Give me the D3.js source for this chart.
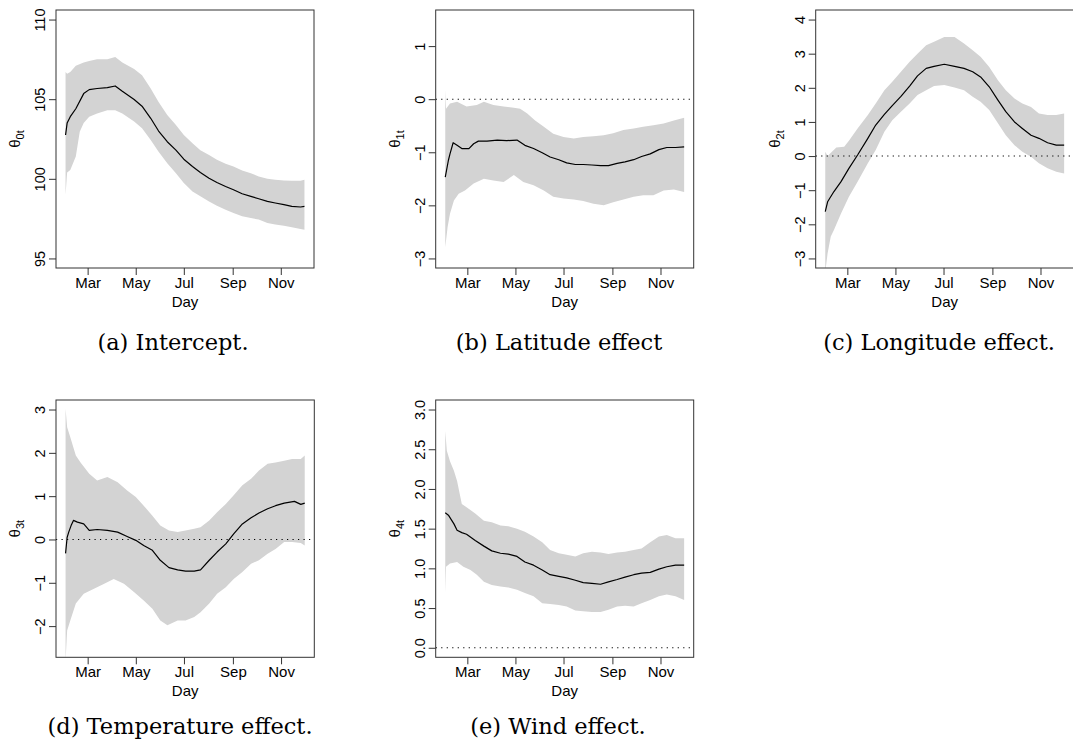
<!DOCTYPE html>
<html>
<head>
<meta charset="utf-8">
<script src="https://cdn.jsdelivr.net/npm/d3@7"></script>
<style>
  html, body { margin: 0; padding: 0; background: #fff; }
  svg { display: block; }
</style>
</head>
<body>
<svg id="chart" width="1073" height="749"></svg>
<script>
// ---------- shared axis data ----------
const monthLabels = ["Mar", "May", "Jul", "Sep", "Nov"];
const monthDays = [28, 89, 150, 212, 273];   // days after 1 Feb
const dayExtent = [0, 303];                   // 1 Feb .. 1 Dec

// ---------- (a) Intercept ----------
const aTicks = [95, 100, 105, 110];
const aEstDays = [0,2,6,13,23,30,40,53,63,72,87,97,108,118,129,140,150,161,171,182,192,203,213,224,235,245,256,266,277,287,298,303];
const aEst = [102.75,103.5,103.9,104.4,105.35,105.6,105.67,105.73,105.83,105.5,104.98,104.56,103.8,103.0,102.33,101.8,101.23,100.77,100.4,100.04,99.77,99.52,99.31,99.06,98.9,98.75,98.58,98.48,98.38,98.27,98.23,98.27];
const aUpDays = [0,2,6,13,23,30,40,53,63,72,87,97,108,118,129,140,150,161,171,182,192,203,213,224,235,245,256,266,277,287,298,303];
const aUpper = [106.7,106.6,106.7,107.1,107.3,107.4,107.5,107.5,107.65,107.3,106.9,106.5,105.67,104.83,104.0,103.38,102.75,102.23,101.8,101.5,101.19,100.94,100.77,100.52,100.35,100.15,100.0,99.94,99.9,99.88,99.88,99.94];
const aLoDays = [0,2,6,13,18,23,30,40,53,63,72,87,97,108,118,129,140,150,161,171,182,192,203,213,224,235,245,256,266,277,287,298,303];
const aLower = [99.0,100.4,100.56,101.4,102.96,103.5,103.9,104.1,104.3,104.3,104.1,103.6,103.17,102.44,101.7,100.98,100.35,99.73,99.2,98.9,98.58,98.31,98.06,97.85,97.65,97.54,97.44,97.23,97.13,97.06,96.96,96.85,96.8];

// ---------- (b) Latitude effect ----------
const bTicks = [-3, -2, -1, 0, 1];
const bEstDays = [0,4,6,10,15,21,30,36,42,53,66,78,91,101,112,123,133,144,154,165,175,186,197,207,218,228,239,249,260,271,281,292,303];
const bEst = [-1.47,-1.15,-1.03,-0.82,-0.87,-0.93,-0.93,-0.84,-0.79,-0.79,-0.77,-0.78,-0.77,-0.87,-0.93,-1.01,-1.09,-1.14,-1.2,-1.23,-1.23,-1.24,-1.25,-1.25,-1.21,-1.18,-1.14,-1.08,-1.03,-0.95,-0.91,-0.91,-0.9];
const bUpDays = [0,1,6,15,27,40,49,61,74,87,95,104,114,125,137,150,163,175,188,201,213,226,239,251,264,277,290,303];
const bUpper = [0.18,-0.18,-0.08,-0.05,-0.14,-0.11,-0.05,-0.11,-0.14,-0.16,-0.18,-0.27,-0.4,-0.52,-0.65,-0.71,-0.74,-0.71,-0.70,-0.68,-0.64,-0.58,-0.55,-0.52,-0.49,-0.46,-0.4,-0.35];
const bLoDays = [0,3,6,11,17,25,36,49,61,74,87,99,112,125,137,150,163,175,188,201,213,226,239,251,264,277,290,303];
const bLower = [-2.79,-2.41,-2.16,-1.91,-1.78,-1.72,-1.59,-1.5,-1.53,-1.56,-1.43,-1.56,-1.62,-1.72,-1.84,-1.87,-1.89,-1.92,-1.97,-2.0,-1.94,-1.89,-1.84,-1.81,-1.81,-1.72,-1.70,-1.75];

// ---------- (c) Longitude effect ----------
const cTicks = [-3, -2, -1, 0, 1, 2, 3, 4];
const cEstDays = [0,3,11,20,30,41,54,64,75,85,96,107,117,128,138,151,164,176,187,197,208,219,229,240,250,261,271,282,293,303];
const cEst = [-1.63,-1.34,-1.04,-0.75,-0.36,0.03,0.52,0.91,1.22,1.48,1.75,2.05,2.35,2.57,2.63,2.69,2.63,2.57,2.47,2.32,2.03,1.64,1.30,1.0,0.81,0.61,0.52,0.39,0.32,0.32];
const cUpDays = [0,3,14,24,30,41,54,64,75,85,96,107,117,128,138,151,164,176,187,197,208,219,229,240,250,261,271,282,293,303];
const cUpper = [0.13,0.0,0.25,0.27,0.45,0.81,1.2,1.54,1.93,2.18,2.47,2.76,3.0,3.25,3.35,3.49,3.49,3.30,3.1,2.91,2.61,2.22,1.93,1.69,1.54,1.44,1.25,1.2,1.2,1.25];
const cLoDays = [0,3,7,11,20,30,41,54,64,75,85,96,107,117,128,138,151,164,176,187,197,208,219,229,240,250,261,271,282,293,303];
const cLower = [-3.4,-2.85,-2.36,-2.17,-1.68,-1.19,-0.75,-0.21,0.18,0.71,1.05,1.3,1.54,1.79,1.93,2.05,2.08,2.01,1.93,1.74,1.59,1.35,0.96,0.61,0.32,0.13,-0.02,-0.21,-0.36,-0.46,-0.51];

// ---------- (d) Temperature effect ----------
const dTicks = [-2, -1, 0, 1, 2, 3];
const dEstDays = [0,2,4,7,10,15,23,30,40,53,66,78,89,99,110,120,131,142,152,163,171,182,192,203,213,224,235,245,256,266,277,290,298,303];
const dEst = [-0.32,0.05,0.17,0.32,0.44,0.40,0.36,0.21,0.23,0.21,0.17,0.07,-0.02,-0.14,-0.25,-0.48,-0.65,-0.7,-0.73,-0.73,-0.70,-0.48,-0.29,-0.1,0.13,0.36,0.5,0.61,0.71,0.78,0.84,0.88,0.81,0.84];
const dUpDays = [0,2,6,13,19,30,40,53,66,78,89,99,110,120,131,142,152,163,171,182,192,203,213,224,235,245,256,266,277,287,298,303];
const dUpper = [3.02,2.59,2.36,1.94,1.78,1.52,1.36,1.44,1.32,1.13,0.98,0.78,0.55,0.32,0.21,0.17,0.21,0.25,0.28,0.44,0.63,0.82,1.02,1.25,1.4,1.59,1.75,1.78,1.82,1.86,1.86,1.94];
const dLoDays = [0,2,6,13,23,36,49,61,74,87,99,110,120,129,142,152,163,171,182,192,203,213,224,235,245,256,266,277,287,298,303];
const dLower = [-2.8,-2.1,-1.87,-1.48,-1.25,-1.14,-1.02,-0.91,-1.02,-1.22,-1.41,-1.6,-1.87,-1.98,-1.87,-1.87,-1.79,-1.68,-1.48,-1.25,-1.1,-0.91,-0.75,-0.56,-0.48,-0.33,-0.22,-0.06,-0.06,-0.08,-0.14];

// ---------- (e) Wind effect ----------
const eTicks = [0, 0.5, 1, 1.5, 2, 2.5, 3];
const eEstDays = [0,4,11,15,21,27,38,49,59,70,80,91,101,112,123,133,144,154,165,175,186,197,207,218,228,239,249,260,271,281,292,303];
const eEst = [1.70,1.67,1.56,1.48,1.45,1.43,1.35,1.28,1.22,1.19,1.18,1.15,1.08,1.04,0.98,0.92,0.9,0.88,0.85,0.82,0.81,0.80,0.83,0.86,0.89,0.92,0.94,0.95,0.99,1.02,1.04,1.04];
const eUpDays = [0,2,6,11,15,21,27,38,49,59,70,80,91,101,112,123,133,144,154,165,175,186,197,207,218,228,239,249,260,271,281,292,303];
const eUpper = [2.73,2.48,2.35,2.23,2.1,1.81,1.77,1.69,1.6,1.58,1.54,1.53,1.5,1.46,1.4,1.33,1.23,1.19,1.17,1.15,1.19,1.21,1.2,1.18,1.2,1.21,1.23,1.25,1.33,1.4,1.42,1.38,1.38];
const eLoDays = [0,1,6,15,23,32,40,49,59,70,80,91,101,112,123,133,144,154,165,175,186,197,207,218,228,239,249,260,271,281,292,303];
const eLower = [0.69,1.02,1.06,1.08,1.02,0.98,0.92,0.83,0.79,0.77,0.76,0.73,0.69,0.65,0.56,0.55,0.54,0.52,0.47,0.46,0.45,0.45,0.48,0.52,0.53,0.52,0.56,0.6,0.65,0.67,0.65,0.6];

// ---------- panel definitions ----------
const panels = [
  { id: "a", sub: "0t", caption: "(a) Intercept.", ticks: aTicks, ylim: [95, 110], zero: false, fmt: d3.format("d"),
    est: [aEstDays, aEst], up: [aUpDays, aUpper], lo: [aLoDays, aLower],
    box: [56, 10, 314, 268], capX: 173, capY: 350 },
  { id: "b", sub: "1t", caption: "(b) Latitude effect", ticks: bTicks, ylim: [-3, 1.5], zero: true, fmt: d3.format("d"),
    est: [bEstDays, bEst], up: [bUpDays, bUpper], lo: [bLoDays, bLower],
    box: [435.7, 10, 693.7, 268], capX: 559, capY: 350 },
  { id: "c", sub: "2t", caption: "(c) Longitude effect.", ticks: cTicks, ylim: [-3, 4], zero: true, fmt: d3.format("d"),
    est: [cEstDays, cEst], up: [cUpDays, cUpper], lo: [cLoDays, cLower],
    box: [815.7, 10, 1073.7, 268], capX: 939, capY: 350 },
  { id: "d", sub: "3t", caption: "(d) Temperature effect.", ticks: dTicks, ylim: [-2.5, 3], zero: true, fmt: d3.format("d"),
    est: [dEstDays, dEst], up: [dUpDays, dUpper], lo: [dLoDays, dLower],
    box: [56, 400, 314.3, 657.3], capX: 180, capY: 734 },
  { id: "e", sub: "4t", caption: "(e) Wind effect.", ticks: eTicks, ylim: [0, 3], zero: true, fmt: d3.format(".1f"),
    est: [eEstDays, eEst], up: [eUpDays, eUpper], lo: [eLoDays, eLower],
    box: [435.7, 400, 693.7, 657.3], capX: 558, capY: 734 }
];

const svg = d3.select("#chart");
const sansFont = "'Liberation Sans', Arial, Helvetica, sans-serif";
const serifFont = "'DejaVu Serif', 'Liberation Serif', serif";
const minus = s => s.replace("-", "\u2212");

function pad(ext) { const r = ext[1] - ext[0]; return [ext[0] - 0.04 * r, ext[1] + 0.04 * r]; }

panels.forEach(p => {
  const [x0, y0, x1, y1] = p.box;
  const g = svg.append("g");
  const x = d3.scaleLinear().domain(pad(dayExtent)).range([x0, x1]);
  const y = d3.scaleLinear().domain(pad(p.ylim)).range([y1, y0]);

  const clipId = "clip-" + p.id;
  svg.append("clipPath").attr("id", clipId)
    .append("rect").attr("x", x0).attr("y", y0).attr("width", x1 - x0).attr("height", y1 - y0);

  const plot = g.append("g").attr("clip-path", `url(#${clipId})`);

  // confidence band
  const upPts = p.up[0].map((d, i) => [x(d), y(p.up[1][i])]);
  const loPts = p.lo[0].map((d, i) => [x(d), y(p.lo[1][i])]).reverse();
  plot.append("path")
    .attr("d", d3.line()(upPts.concat(loPts)) + "Z")
    .attr("fill", "#d3d3d3").attr("stroke", "none");

  // zero reference
  if (p.zero) {
    plot.append("line")
      .attr("x1", x0).attr("x2", x1).attr("y1", y(0)).attr("y2", y(0))
      .attr("stroke", "#000").attr("stroke-width", 1.1)
      .attr("stroke-dasharray", "1.2,4.3");
  }

  // estimate
  const estPts = p.est[0].map((d, i) => [d, p.est[1][i]]);
  plot.append("path")
    .attr("d", d3.line().x(d => x(d[0])).y(d => y(d[1]))(estPts))
    .attr("fill", "none").attr("stroke", "#000").attr("stroke-width", 1.2)
    .attr("stroke-linejoin", "round");

  // x axis
  const xa = g.append("g").attr("transform", `translate(0,${y1})`)
    .call(d3.axisBottom(x).tickValues(monthDays).tickFormat((d, i) => monthLabels[i]).tickSize(7).tickSizeOuter(0));
  xa.select(".domain").remove();
  xa.selectAll(".tick line").attr("stroke", "#333");
  xa.selectAll(".tick text").attr("y", 20).attr("dy", 0)
    .style("font-family", sansFont).style("font-size", "15px").attr("fill", "#000");

  // y axis
  const ya = g.append("g").attr("transform", `translate(${x0},0)`)
    .call(d3.axisLeft(y).tickValues(p.ticks).tickFormat(d => minus(p.fmt(d))).tickSize(7).tickSizeOuter(0));
  ya.select(".domain").remove();
  ya.selectAll(".tick line").attr("stroke", "#333");
  ya.selectAll(".tick text")
    .attr("transform", "rotate(-90)").attr("x", 0).attr("y", -11).attr("dy", 0)
    .attr("text-anchor", "middle")
    .style("font-family", sansFont).style("font-size", "14.5px").attr("fill", "#000");

  // box
  g.append("rect").attr("x", x0).attr("y", y0).attr("width", x1 - x0).attr("height", y1 - y0)
    .attr("fill", "none").attr("stroke", "#333").attr("stroke-width", 1);

  // x title
  g.append("text").attr("x", (x0 + x1) / 2).attr("y", y1 + 39)
    .attr("text-anchor", "middle")
    .style("font-family", sansFont).style("font-size", "15px").text("Day");

  // y title θ with subscript
  const yt = g.append("text")
    .attr("transform", `translate(${x0 - 36},${(y0 + y1) / 2}) rotate(-90)`)
    .attr("text-anchor", "middle")
    .style("font-family", sansFont).style("font-size", "15px");
  yt.append("tspan").text("\u03b8");
  yt.append("tspan").attr("dy", 4).style("font-size", "11px").text(p.sub);

  // caption
  svg.append("text").attr("x", p.capX).attr("y", p.capY)
    .attr("text-anchor", "middle")
    .style("font-family", serifFont).style("font-size", "22.5px").attr("fill", "#000")
    .text(p.caption);
});
</script>
</body>
</html>
